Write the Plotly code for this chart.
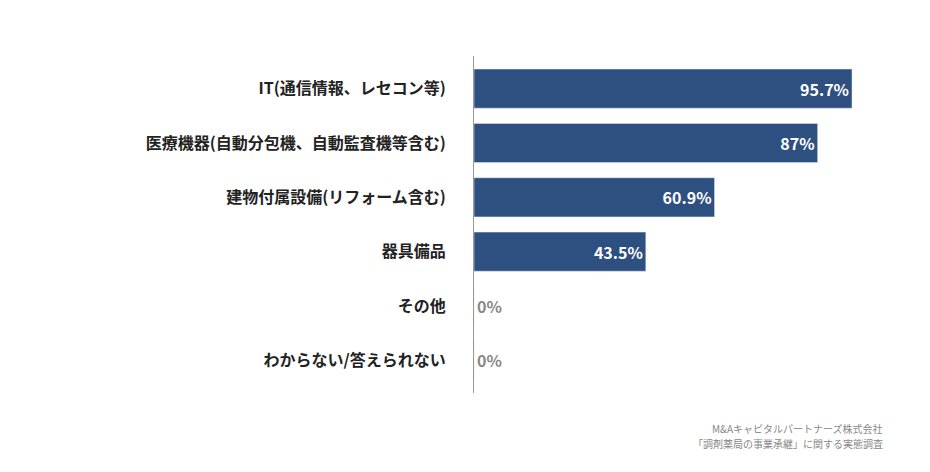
import plotly.graph_objects as go

categories = [
    "IT(通信情報、レセコン等)",
    "医療機器(自動分包機、自動監査機等含む)",
    "建物付属設備(リフォーム含む)",
    "器具備品",
    "その他",
    "わからない/答えられない",
]
values = [95.7, 87, 60.9, 43.5, 0, 0]
value_labels = ["95.7%", "87%", "60.9%", "43.5%", "0%", "0%"]
source_lines = ["M&Aキャピタルパートナーズ株式会社", "「調剤薬局の事業承継」に関する実態調査"]

font = "Noto Sans CJK JP"
bar_color = "#2e5080"

fig = go.Figure(go.Bar(
    x=values,
    y=categories,
    orientation="h",
    marker=dict(color=bar_color),
    width=0.72,
    text=value_labels,
    textposition=["inside" if v > 0 else "outside" for v in values],
    insidetextanchor="end",
    textfont=dict(family=font, size=16, weight="bold",
                  color=["white" if v > 0 else "#888888" for v in values]),
    cliponaxis=False,
))

fig.update_layout(
    width=930, height=472,
    margin=dict(l=0, r=0, t=0, b=0),
    paper_bgcolor="white", plot_bgcolor="white",
    showlegend=False,
    font=dict(family=font, color="#222222"),
    xaxis=dict(domain=[466 / 930, 861 / 930], range=[0, 100],
               visible=False, fixedrange=True),
    yaxis=dict(domain=[1 - 385 / 472, 1 - 48 / 472], range=[5.6, -0.6],
               showline=True, linecolor="#999999", linewidth=1,
               ticks="", ticklabelstandoff=24,
               tickfont=dict(family=font, size=16, color="#222222", weight="bold")),
    annotations=[dict(
        x=877 / 930, y=1 - yy / 472, xref="paper", yref="paper",
        xanchor="right", yanchor="middle", align="right", showarrow=False,
        text=t, font=dict(family=font, size=10, color="#888888"),
    ) for t, yy in zip(source_lines, [420, 435])],
)

fig.write_html("out.html")
